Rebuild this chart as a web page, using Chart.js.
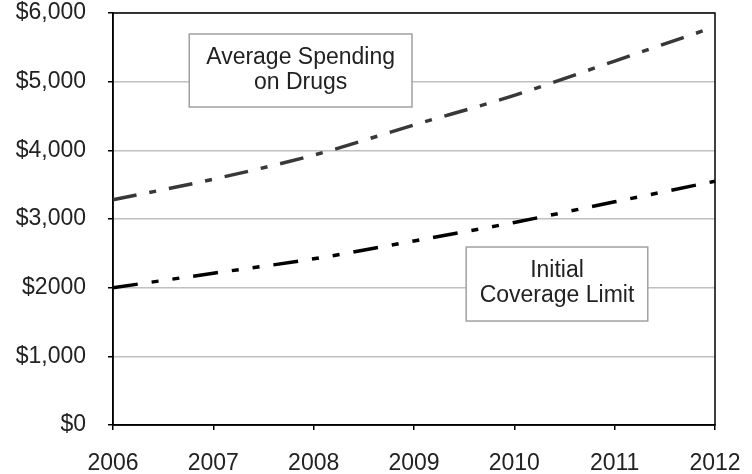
<!DOCTYPE html>
<html>
<head>
<meta charset="utf-8">
<script src="https://cdn.jsdelivr.net/npm/chart.js@4.4.0/dist/chart.umd.min.js"></script>
<style>
  html, body { margin: 0; padding: 0; background: #fff; }
  #wrap { width: 752px; height: 474px; }
</style>
</head>
<body>
<div id="wrap"><canvas id="myChart" width="752" height="474"></canvas></div>
<script>
var years = ['2006', '2007', '2008', '2009', '2010', '2011', '2012'];
var avgSpending = [3280, 3580, 3930, 4370, 4800, 5300, 5800];
var coverageLimit = [2000, 2210, 2420, 2680, 2950, 3250, 3550];
var yTicks = [0, 1000, 2000, 3000, 4000, 5000, 6000];
var yTickLabels = ['$0', '$1,000', '$2000', '$3,000', '$4,000', '$5,000', '$6,000'];

var FONT = '"Liberation Sans", Arial, sans-serif';

// the two text boxes, placed in axis units
var boxes = [
  { x0: 0.76, x1: 2.98, y0: 5694, y1: 4631, lines: ['Average Spending', 'on Drugs'] },
  { x0: 3.52, x1: 5.33, y0: 2592, y1: 1514, lines: ['Initial', 'Coverage Limit'] }
];

var framePlugin = {
  id: 'frame',
  beforeDatasetsDraw: function(chart) {
    var ctx = chart.ctx, a = chart.chartArea;
    var xs = chart.scales.x, ys = chart.scales.y;
    ctx.save();
    boxes.forEach(function(b) {
      var l = xs.getPixelForValue(b.x0), r = xs.getPixelForValue(b.x1);
      var t = ys.getPixelForValue(b.y0), btm = ys.getPixelForValue(b.y1);
      ctx.fillStyle = '#fff';
      ctx.fillRect(l, t, r - l, btm - t);
      ctx.strokeStyle = '#a0a0a0';
      ctx.lineWidth = 1.5;
      ctx.strokeRect(l, t, r - l, btm - t);
      ctx.fillStyle = '#222';
      ctx.font = '23px ' + FONT;
      ctx.textAlign = 'center';
      ctx.textBaseline = 'alphabetic';
      var cx = (l + r) / 2;
      var mid = (t + btm) / 2;
      ctx.fillText(b.lines[0], cx, mid - 7);
      ctx.fillText(b.lines[1], cx, mid + 18);
    });
    ctx.strokeStyle = '#000';
    ctx.lineWidth = 1.5;
    ctx.strokeRect(a.left, a.top, a.right - a.left, a.bottom - a.top);
    ctx.restore();
  }
};

var ctx = document.getElementById('myChart').getContext('2d');
var chart = new Chart(ctx, {
  type: 'line',
  data: {
    labels: years,
    datasets: [{
      label: 'Average Spending on Drugs',
      data: avgSpending,
      borderColor: '#383838',
      borderWidth: 3.5,
      borderDash: [24, 13, 7, 13],
      borderCapStyle: 'butt',
      pointRadius: 0,
      cubicInterpolationMode: 'monotone',
      fill: false
    }, {
      label: 'Initial Coverage Limit',
      data: coverageLimit,
      borderColor: '#000',
      borderWidth: 3.5,
      borderDash: [25, 14, 7, 14, 7, 14],
      borderCapStyle: 'butt',
      pointRadius: 0,
      cubicInterpolationMode: 'monotone',
      fill: false
    }]
  },
  options: {
    responsive: false,
    animation: false,
    layout: { padding: { top: 13, right: 37, left: 0, bottom: 0 } },
    plugins: {
      legend: { display: false },
      tooltip: { enabled: false }
    },
    scales: {
      x: {
        offset: false,
        grid: { display: true, drawOnChartArea: false, drawTicks: true, tickLength: 5, tickColor: '#000', lineWidth: 1.5 },
        border: { color: '#000', width: 1.5 },
        ticks: { color: '#222', font: { family: FONT, size: 23 }, padding: 20, maxRotation: 0 },
        afterFit: function(s) { s.height = 49; s.paddingLeft = 0; s.paddingRight = 0; }
      },
      y: {
        min: 0,
        max: 6000,
        afterBuildTicks: function(s) { s.ticks = yTicks.map(function(v) { return { value: v }; }); },
        grid: { color: '#c0c0c0', lineWidth: 1.5, tickLength: 5, tickColor: '#000' },
        border: { color: '#000', width: 1.5 },
        ticks: {
          color: '#222',
          font: { family: FONT, size: 23 },
          padding: 22,
          callback: function(v) { return yTickLabels[yTicks.indexOf(v)]; }
        },
        afterFit: function(s) { s.width = 113; s.paddingTop = 0; s.paddingBottom = 0; }
      }
    }
  },
  plugins: [framePlugin]
});
</script>
</body>
</html>
